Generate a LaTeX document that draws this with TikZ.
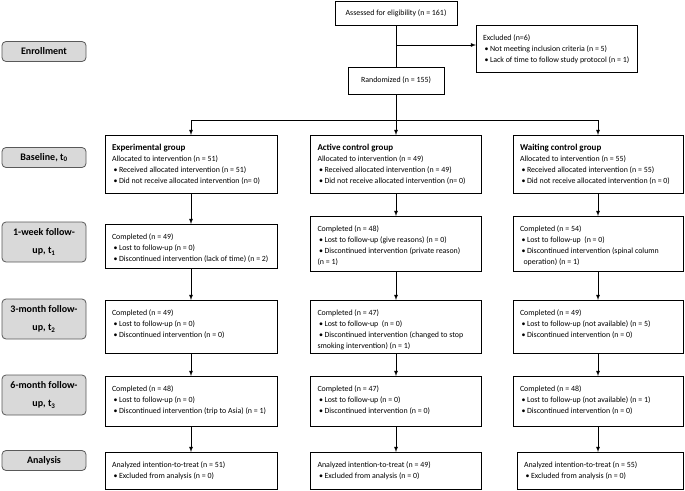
\documentclass[tikz,border=0pt]{standalone}
\usepackage{fontspec}
\setmainfont{Carlito}
\definecolor{labfill}{RGB}{217,217,217}
\definecolor{labline}{RGB}{89,89,89}
\newcommand{\bul}{\makebox[7pt][c]{\textbullet}}
\newcommand{\grp}[1]{{\fontsize{9}{11}\selectfont\bfseries #1}}
\newcommand{\boxtxt}[3]{\parbox[t][\dimexpr#2pt-15pt\relax][t]{\dimexpr#1pt-14pt\relax}{\begin{tabular}[t]{@{}l@{}}#3\end{tabular}}}
\tikzset{
  box/.style={draw,anchor=north west,inner xsep=7pt,inner ysep=7.5pt,outer sep=0pt,font=\fontsize{7.9}{11}\selectfont},
  topbox/.style={draw,inner sep=0pt,outer sep=0pt,font=\fontsize{7.9}{11}\selectfont},
  lab/.style={draw=labline,fill=labfill,rounded corners=4pt,minimum width=84pt,inner sep=0pt,align=center,font=\fontsize{10}{18}\selectfont\bfseries}
}
\begin{document}
\begin{tikzpicture}[x=1pt,y=-1pt,>=latex,line width=0.8pt]
    \useasboundingbox (0,0) rectangle (685,490);

    % stage labels
    \node[lab,minimum height=20pt] at (44,51.5) (enr) {Enrollment};
    \node[lab,minimum height=20pt] at (44,157.5) (base) {Baseline, t\textsubscript{0}};
    \node[lab,minimum height=40pt] at (44,242) (wk1) {1-week follow-\\up, t\textsubscript{1}};
    \node[lab,minimum height=40pt] at (44,319) (mo3) {3-month follow-\\up, t\textsubscript{2}};
    \node[lab,minimum height=40pt] at (44,395) (mo6) {6-month follow-\\up, t\textsubscript{3}};
    \node[lab,minimum height=20pt] at (44,460.5) (ana) {Analysis};

    % enrollment
    \node[topbox,minimum width=122pt,minimum height=24pt] at (396,13) (assess) {Assessed for eligibility (n = 161)};
    \node[box] at (476,25) (excl) {\boxtxt{161}{47}{Excluded (n=6)\\\bul Not meeting inclusion criteria (n = 5)\\\bul Lack of time to follow study protocol (n = 1)}};
    \node[topbox,minimum width=96pt,minimum height=27pt] at (396,80.5) (rand) {Randomized (n = 155)};

    % experimental group
    \node[box] at (105,135) (e0) {\boxtxt{172}{58}{\grp{Experimental group}\\Allocated to intervention (n = 51)\\\bul Received allocated intervention (n = 51)\\\bul Did not receive allocated intervention (n= 0)}};
    \node[box] at (105,224) (e1) {\boxtxt{172}{44}{Completed (n = 49)\\\bul Lost to follow-up (n = 0)\\\bul Discontinued intervention (lack of time) (n = 2)}};
    \node[box] at (105,300) (e2) {\boxtxt{172}{53}{Completed (n = 49)\\\bul Lost to follow-up (n = 0)\\\bul Discontinued intervention (n = 0)}};
    \node[box] at (105,376) (e3) {\boxtxt{172}{50}{Completed (n = 48)\\\bul Lost to follow-up (n = 0)\\\bul Discontinued intervention (trip to Asia) (n = 1)}};
    \node[box] at (105,452) (e4) {\boxtxt{172}{37}{Analyzed intention-to-treat (n = 51)\\\bul Excluded from analysis (n = 0)}};

    % active control group
    \node[box] at (310.5,135) (a0) {\boxtxt{171}{58}{\grp{Active control group}\\Allocated to intervention (n = 49)\\\bul Received allocated intervention (n = 49)\\\bul Did not receive allocated intervention (n= 0)}};
    \node[box] at (310.5,216) (a1) {\boxtxt{171}{55}{Completed (n = 48)\\\bul Lost to follow-up (give reasons) (n = 0)\\\bul Discontinued intervention (private reason)\\(n = 1)}};
    \node[box] at (310.5,300) (a2) {\boxtxt{171}{53}{Completed (n = 47)\\\bul Lost to follow-up\ \ (n = 0)\\\bul Discontinued intervention (changed to stop\\smoking intervention) (n = 1)}};
    \node[box] at (310.5,376) (a3) {\boxtxt{171}{50}{Completed (n = 47)\\\bul Lost to follow-up (n = 0)\\\bul Discontinued intervention (n = 0)}};
    \node[box] at (310.5,452) (a4) {\boxtxt{171}{37}{Analyzed intention-to-treat (n = 49)\\\bul Excluded from analysis (n = 0)}};

    % waiting control group
    \node[box] at (513,135) (w0) {\boxtxt{170}{58}{\grp{Waiting control group}\\Allocated to intervention (n = 55)\\\bul Received allocated intervention (n = 55)\\\bul Did not receive allocated intervention (n = 0)}};
    \node[box] at (513,216) (w1) {\boxtxt{170}{55}{Completed (n = 54)\\\bul Lost to follow-up\ \ (n = 0)\\\bul Discontinued intervention (spinal column\\\ \ operation) (n = 1)}};
    \node[box] at (513,300) (w2) {\boxtxt{170}{53}{Completed (n = 49)\\\bul Lost to follow-up (not available) (n = 5)\\\bul Discontinued intervention (n = 0)}};
    \node[box] at (513,376) (w3) {\boxtxt{170}{50}{Completed (n = 48)\\\bul Lost to follow-up (not available) (n = 1)\\\bul Discontinued intervention (n = 0)}};
    \node[box] at (517,452) (w4) {\boxtxt{166}{37}{Analyzed intention-to-treat (n = 55)\\\bul Excluded from analysis (n = 0)}};

    % connectors
    \draw (assess) -- (rand);
    \coordinate (ex) at (396,45);
    \draw[->] (ex) -- (ex -| excl.west);
    \draw[->] (rand) -- (a0);
    \coordinate (br) at (396,120);
    \draw[->] (br) -| (e0.north);
    \draw[->] (br) -| (w0.north);
    \foreach \c in {e,a,w}{
        \foreach \r/\s in {0/1,1/2,2/3,3/4}{
            \draw[->] (\c\r.south) -- (\c\r.south |- \c\s.north);
        }
    }
\end{tikzpicture}
\end{document}
